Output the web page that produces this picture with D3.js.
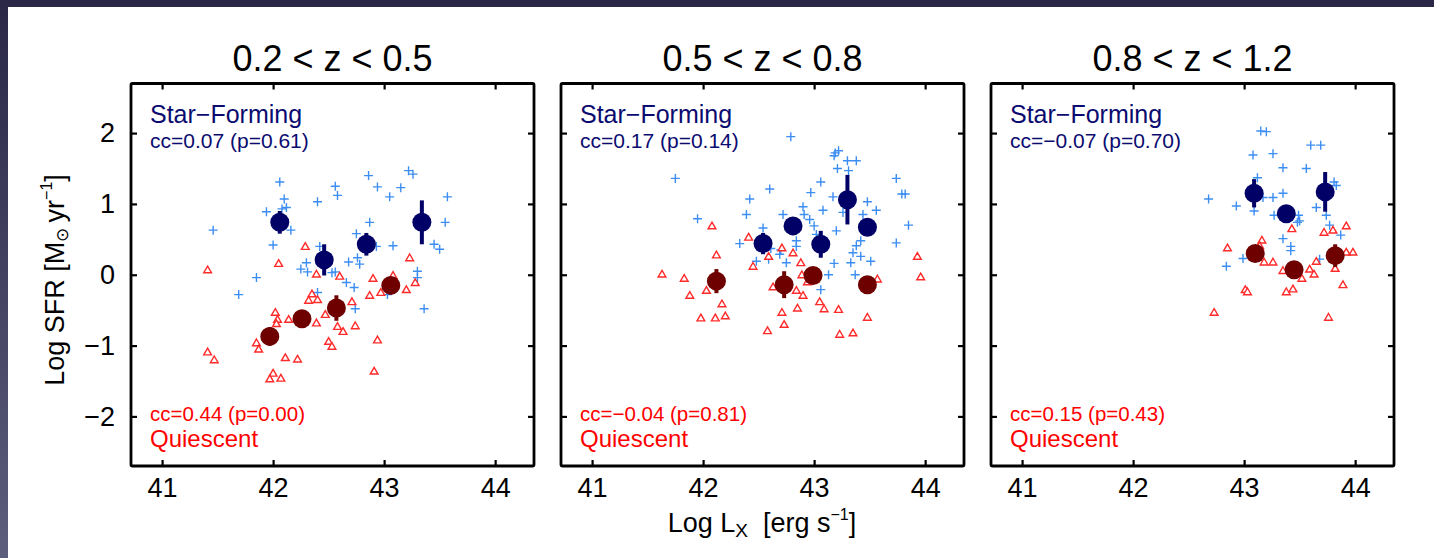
<!DOCTYPE html>
<html>
<head>
<meta charset="utf-8">
<script src="https://cdn.jsdelivr.net/npm/d3@7"></script>
<style>
  html, body { margin: 0; padding: 0; background: #fff; }
  svg { display: block; font-family: "Liberation Sans", Arial, Helvetica, sans-serif; }
</style>
</head>
<body>
<svg id="chart" width="1434" height="558"></svg>
<script>
// ---- data ----
const panelTitles = ["0.2 < z < 0.5", "0.5 < z < 0.8", "0.8 < z < 1.2"];
const xTicks = [41, 42, 43, 44];
const yTicks = [-2, -1, 0, 1, 2];
const sfCorr = ["cc=0.07 (p=0.61)", "cc=0.17 (p=0.14)", "cc=\u22120.07 (p=0.70)"];
const qCorr = ["cc=0.44 (p=0.00)", "cc=\u22120.04 (p=0.81)", "cc=0.15 (p=0.43)"];

// star-forming hosts, [log Lx, log SFR]
const sfLow = [[42.06,1.31],[42.10,1.07],[42.12,0.95],[41.94,0.89],[42.08,0.93],[41.46,0.63],[42.16,0.63],[42.00,0.42],[42.56,1.25],[42.58,1.12],[42.40,1.03],[42.86,1.40],[42.94,1.24],[43.05,1.10],[43.15,1.23],[43.22,1.47],[43.26,1.42],[43.57,1.10],[43.55,0.74],[42.87,0.74],[42.75,0.58],[42.93,0.40],[43.08,0.41],[42.42,0.40],[42.68,0.18],[42.76,0.24],[42.78,0.15],[42.30,0.17],[42.25,0.08],[42.31,0.04],[42.56,0.04],[43.45,0.43],[43.50,0.36],[43.30,0.05],[43.30,-0.04],[41.85,-0.04],[41.69,-0.28],[42.40,-0.25],[42.66,-0.11],[42.73,-0.18],[42.74,-0.48],[43.36,-0.48],[43.03,-0.28],[42.53,0.03]];
const sfMid = [[42.79,1.95],[41.75,1.36],[43.19,1.72],[43.22,1.75],[43.18,1.68],[43.30,1.61],[43.38,1.61],[43.21,1.50],[43.31,1.47],[43.06,1.31],[42.60,1.21],[42.42,1.07],[42.97,1.16],[43.17,1.10],[43.74,1.36],[43.79,1.14],[43.82,1.14],[43.48,1.03],[43.56,0.91],[41.95,0.79],[42.39,0.85],[42.90,0.96],[42.91,0.85],[43.08,0.91],[42.72,0.85],[42.96,0.78],[43.85,0.70],[42.54,0.66],[43.00,0.69],[43.02,0.57],[43.26,0.88],[43.44,0.85],[43.20,0.62],[43.42,0.48],[43.38,0.41],[43.74,0.45],[42.33,0.44],[42.84,0.48],[42.84,0.40],[42.61,0.37],[42.69,0.29],[42.70,0.35],[42.75,0.17],[42.48,0.19],[42.59,0.22],[43.18,0.16],[43.33,0.17],[43.35,0.31],[43.42,0.26],[43.51,0.19],[43.13,0.00],[43.37,0.00],[43.06,-0.21]];
const sfHigh = [[43.15,2.03],[43.20,2.02],[43.60,1.83],[43.69,1.83],[43.08,1.69],[43.26,1.71],[43.35,1.51],[43.56,1.50],[43.12,1.37],[43.81,1.31],[43.83,1.26],[42.68,1.07],[42.93,0.97],[43.17,1.09],[43.26,1.09],[43.35,1.15],[43.09,0.90],[43.27,0.84],[43.49,0.84],[43.50,0.76],[43.48,0.74],[43.65,0.95],[43.74,0.84],[43.77,0.70],[43.87,0.56],[43.35,0.51],[43.42,0.40],[43.42,0.34],[42.84,0.12],[42.99,0.23],[43.68,0.22]];

// quiescent hosts
const qLow = [[42.29,0.39],[42.05,0.15],[41.41,0.06],[43.23,0.23],[42.39,0.00],[42.60,-0.03],[42.90,-0.06],[43.08,-0.02],[43.28,-0.12],[43.20,-0.22],[42.87,-0.30],[42.97,-0.26],[42.35,-0.28],[42.32,-0.37],[42.40,-0.36],[42.71,-0.39],[42.47,-0.57],[42.39,-0.69],[42.02,-0.54],[42.04,-0.64],[42.14,-0.64],[42.03,-0.70],[42.58,-0.74],[42.63,-0.81],[42.74,-0.73],[42.50,-0.95],[42.53,-1.02],[42.94,-0.93],[41.85,-0.97],[41.87,-1.06],[41.41,-1.10],[41.47,-1.21],[42.11,-1.18],[42.22,-1.20],[42.00,-1.40],[41.97,-1.48],[42.07,-1.47],[42.91,-1.37]];
const qMid = [[42.08,0.68],[42.41,0.52],[42.12,0.27],[42.45,0.11],[42.59,0.25],[42.71,0.37],[42.81,0.30],[42.88,0.16],[43.93,0.25],[41.63,0.00],[41.83,-0.06],[42.03,-0.23],[41.88,-0.30],[42.17,-0.42],[41.98,-0.62],[42.11,-0.62],[42.20,-0.59],[42.63,-0.18],[42.84,-0.23],[42.90,-0.30],[42.89,-0.01],[42.94,-0.11],[42.71,-0.54],[42.85,-0.48],[42.73,-0.71],[42.58,-0.80],[43.05,-0.39],[43.09,-0.49],[43.22,-0.50],[43.23,-0.85],[43.35,-0.83],[43.48,-0.61],[43.57,-0.07],[43.96,-0.04]];
const qHigh = [[43.43,0.64],[43.16,0.48],[43.72,0.59],[43.80,0.62],[43.92,0.68],[42.85,0.37],[43.14,0.40],[43.18,0.17],[43.26,0.17],[43.92,0.31],[43.98,0.31],[43.65,0.18],[43.59,0.07],[43.63,0.00],[43.35,0.05],[43.82,0.08],[43.52,-0.06],[43.89,-0.15],[43.01,-0.22],[43.03,-0.25],[43.38,-0.25],[43.44,-0.21],[42.73,-0.54],[43.76,-0.61]];

// binned means, [log Lx, log SFR, error]
const sfBinsLow = [[42.06,0.74,0.16],[42.46,0.21,0.22],[42.84,0.43,0.16],[43.34,0.74,0.31]];
const sfBinsMid = [[42.54,0.44,0.15],[42.81,0.69,0.08],[43.06,0.43,0.19],[43.30,1.06,0.35],[43.48,0.67,0.10]];
const sfBinsHigh = [[43.09,1.15,0.20],[43.38,0.86,0.07],[43.73,1.17,0.28]];
const qBinsLow = [[41.97,-0.87,0.13],[42.26,-0.62,0.07],[42.57,-0.47,0.18],[43.06,-0.15,0.08]];
const qBinsMid = [[42.12,-0.09,0.17],[42.73,-0.14,0.19],[42.99,-0.01,0.06],[43.48,-0.14,0.12]];
const qBinsHigh = [[43.10,0.30,0.07],[43.45,0.07,0.07],[43.82,0.27,0.16]];

const panels = [
  { sf: sfLow, q: qLow, sfBins: sfBinsLow, qBins: qBinsLow },
  { sf: sfMid, q: qMid, sfBins: sfBinsMid, qBins: qBinsMid },
  { sf: sfHigh, q: qHigh, sfBins: sfBinsHigh, qBins: qBinsHigh }
];

// ---- layout ----
const svg = d3.select("#chart");
const W = 1434, H = 558;
const panelLeft = [131, 561, 991];
const panelWidth = 403;
const plotTop = 83.5, plotBottom = 466;

const navy = "#000066", darkRed = "#6e0000";
const sfColor = "#3d8ef2", qColor = "#ff2a2a";

// dark slide border
const grad = svg.append("defs").append("linearGradient")
  .attr("id", "edge").attr("x1", 0).attr("y1", 0).attr("x2", 0).attr("y2", 1);
grad.append("stop").attr("offset", "0%").attr("stop-color", "#2a2846");
grad.append("stop").attr("offset", "100%").attr("stop-color", "#5d5d7c");
svg.append("rect").attr("x", 0).attr("y", 0).attr("width", 8).attr("height", H).attr("fill", "url(#edge)");
svg.append("rect").attr("x", 0).attr("y", 0).attr("width", W).attr("height", 7).attr("fill", "#2a2846");

const y = d3.scaleLinear().domain([-2.7, 2.7]).range([plotBottom, plotTop]);
const plus = "M-4.5,0H4.5M0,-4.5V4.5";
const tri = d3.symbol(d3.symbolTriangle, 26)();

panels.forEach((p, i) => {
  const left = panelLeft[i];
  const x = d3.scaleLinear().domain([40.72, 44.35]).range([left, left + panelWidth]);
  const g = svg.append("g");

  // title
  g.append("text")
    .attr("x", left + panelWidth / 2).attr("y", 70.5)
    .attr("text-anchor", "middle").attr("font-size", 36).attr("fill", "#000")
    .text(panelTitles[i]);

  // axes with inward ticks on all four sides
  const bottomAxis = d3.axisBottom(x).tickValues(xTicks).tickSize(-6).tickFormat(d3.format("d")).tickPadding(12);
  const topAxis = d3.axisTop(x).tickValues(xTicks).tickSize(-6).tickFormat("");
  const leftAxis = d3.axisLeft(y).tickValues(yTicks).tickSize(-6).tickPadding(16)
    .tickFormat(i === 0 ? (d => d < 0 ? "\u2212" + Math.abs(d) : d) : "");
  const rightAxis = d3.axisRight(y).tickValues(yTicks).tickSize(-6).tickFormat("");

  [[bottomAxis, `translate(0,${plotBottom})`], [topAxis, `translate(0,${plotTop})`],
   [leftAxis, `translate(${left},0)`], [rightAxis, `translate(${left + panelWidth},0)`]]
    .forEach(([ax, tr]) => {
      const a = g.append("g").attr("transform", tr).call(ax);
      a.select(".domain").remove();
      a.selectAll(".tick line").attr("stroke", "#000").attr("stroke-width", 2.2);
      a.selectAll(".tick text").attr("font-size", 27).attr("fill", "#000")
        .attr("font-family", "Liberation Sans, Arial, sans-serif");
    });

  // frame
  g.append("rect")
    .attr("x", left).attr("y", plotTop).attr("width", panelWidth).attr("height", plotBottom - plotTop)
    .attr("fill", "none").attr("stroke", "#000").attr("stroke-width", 2.8)
    .attr("rx", 1.5).attr("stroke-linejoin", "round");

  // individual sources
  g.selectAll(".sf").data(p.sf).enter().append("path")
    .attr("class", "sf")
    .attr("d", plus)
    .attr("transform", d => `translate(${x(d[0])},${y(d[1])})`)
    .attr("stroke", sfColor).attr("stroke-width", 1.4).attr("fill", "none");

  g.selectAll(".q").data(p.q).enter().append("path")
    .attr("class", "q")
    .attr("d", tri)
    .attr("transform", d => `translate(${x(d[0])},${y(d[1])})`)
    .attr("stroke", qColor).attr("stroke-width", 1.4).attr("fill", "#fff");

  // binned means with error bars
  [[p.qBins, darkRed], [p.sfBins, navy]].forEach(([bins, col]) => {
    g.selectAll(null).data(bins).enter().append("line")
      .attr("x1", d => x(d[0])).attr("x2", d => x(d[0]))
      .attr("y1", d => y(d[1] - d[2])).attr("y2", d => y(d[1] + d[2]))
      .attr("stroke", col).attr("stroke-width", 4);
    g.selectAll(null).data(bins).enter().append("circle")
      .attr("cx", d => x(d[0])).attr("cy", d => y(d[1])).attr("r", 9.5)
      .attr("fill", col);
  });

  // in-panel labels
  g.append("text").attr("x", left + 19).attr("y", 123)
    .attr("font-size", 25).attr("fill", "#0b0b70").text("Star\u2212Forming");
  g.append("text").attr("x", left + 19).attr("y", 148)
    .attr("font-size", 21).attr("fill", "#0b0b70").text(sfCorr[i]);
  g.append("text").attr("x", left + 19).attr("y", 421)
    .attr("font-size", 20.5).attr("fill", "#ff0000").text(qCorr[i]);
  g.append("text").attr("x", left + 19).attr("y", 447)
    .attr("font-size", 24).attr("fill", "#ff0000").text("Quiescent");
});

// axis titles
const xl = svg.append("text")
  .attr("x", 762).attr("y", 532).attr("text-anchor", "middle")
  .attr("font-size", 27).attr("fill", "#000");
xl.append("tspan").text("Log L");
xl.append("tspan").attr("font-size", 19).attr("dy", 5).text("X");
xl.append("tspan").attr("dy", -5).text("\u00a0 [erg s");
xl.append("tspan").attr("font-size", 16).attr("dy", -12).text("\u22121");
xl.append("tspan").attr("dy", 12).text("]");

const yl = svg.append("text")
  .attr("transform", "translate(64,280) rotate(-90)")
  .attr("text-anchor", "middle").attr("font-size", 27).attr("fill", "#000");
yl.append("tspan").text("Log SFR [M");
yl.append("tspan").attr("font-size", 17).attr("dy", 4).text("\u2299");
yl.append("tspan").attr("dy", -4).text("\u2009yr");
yl.append("tspan").attr("font-size", 16).attr("dy", -12).text("\u22121");
yl.append("tspan").attr("dy", 12).text("]");
</script>
</body>
</html>
